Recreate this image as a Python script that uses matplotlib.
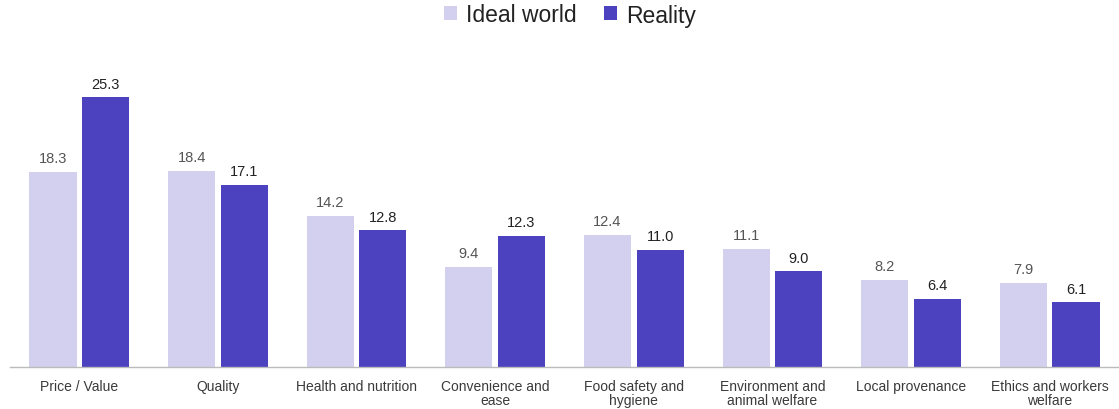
import matplotlib
matplotlib.use("Agg")
import matplotlib.pyplot as plt
import numpy as np

categories = ["Price / Value", "Quality", "Health and nutrition", "Convenience and\nease",
              "Food safety and\nhygiene", "Environment and\nanimal welfare", "Local provenance",
              "Ethics and workers\nwelfare"]
ideal = [18.3, 18.4, 14.2, 9.4, 12.4, 11.1, 8.2, 7.9]
reality = [25.3, 17.1, 12.8, 12.3, 11.0, 9.0, 6.4, 6.1]
series_names = ["Ideal world", "Reality"]

c_ideal = "#D3CFEE"
c_real = "#4C41BF"

plt.rcParams['font.family'] = ['Liberation Sans', 'DejaVu Sans']
fig = plt.figure(figsize=(11.19, 4.10), dpi=100)
ax = fig.add_axes([10/1119, 42/410, 1109/1119, 320/410])

x = np.arange(len(categories))
w = 0.34
off = 0.19
b1 = ax.bar(x - off, ideal, w, color=c_ideal, label=series_names[0])
b2 = ax.bar(x + off, reality, w, color=c_real, label=series_names[1])

for xi, v in zip(x - off, ideal):
    ax.text(xi, v + 0.6, f"{v:.1f}", ha="center", va="bottom", fontsize=10.5, color="#555555")
for xi, v in zip(x + off, reality):
    ax.text(xi, v + 0.6, f"{v:.1f}", ha="center", va="bottom", fontsize=10.5, color="#222222")

ax.set_xlim(-0.5, len(categories) - 0.5)
ax.set_ylim(0, 30)
ax.set_xticks(x)
ax.set_xticklabels(categories, fontsize=10, color="#3A3A3A", linespacing=1.0)
ax.tick_params(axis="x", length=0, pad=9)
ax.set_yticks([])
for s in ["top", "right", "left"]:
    ax.spines[s].set_visible(False)
ax.spines["bottom"].set_color("#BBBBBB")
ax.spines["bottom"].set_linewidth(1)

leg = fig.legend(handles=[b1, b2], labels=series_names, loc="center", bbox_to_anchor=(570/1119, 1 - 16/410),
                 ncol=2, frameon=False, fontsize=16.5, handlelength=0.55, handleheight=0.55,
                 handletextpad=0.4, columnspacing=1.2)
for t in leg.get_texts():
    t.set_color("#222222")

fig.savefig("out.png", dpi=100)
